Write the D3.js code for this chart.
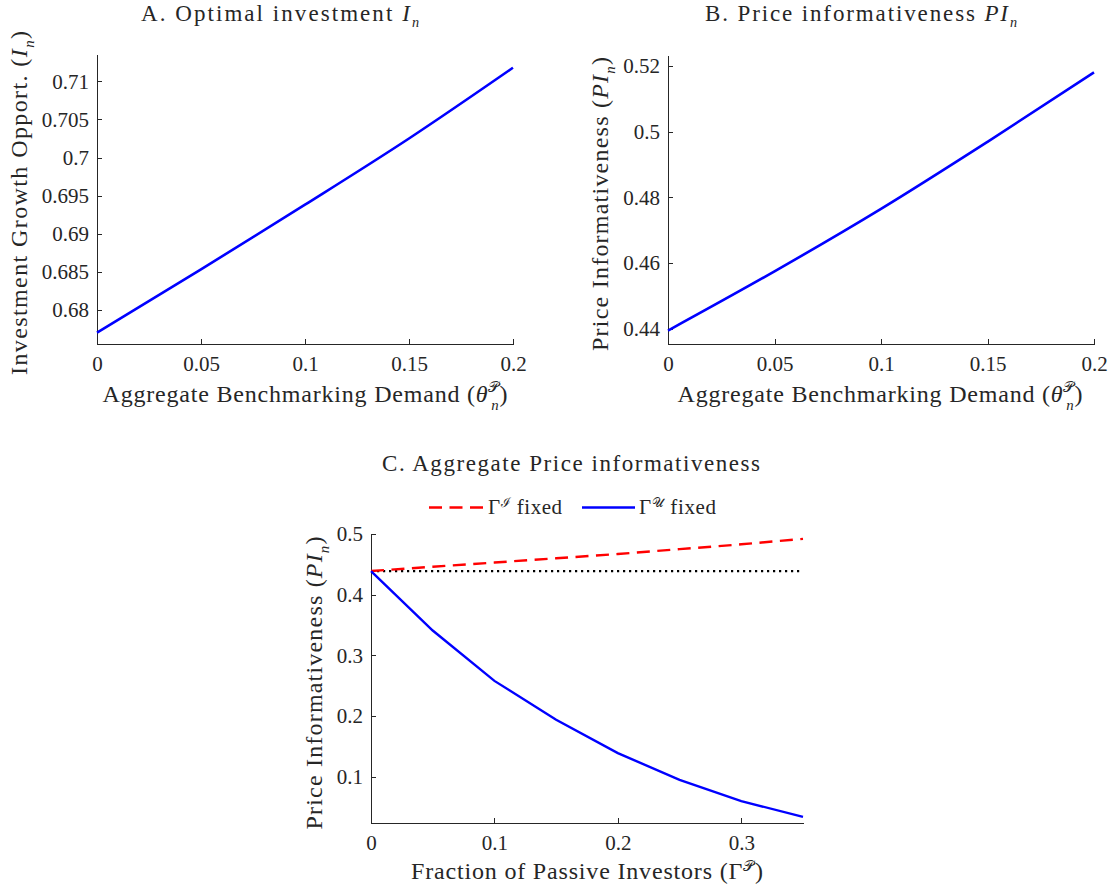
<!DOCTYPE html>
<html><head><meta charset="utf-8">
<script src="https://cdn.jsdelivr.net/npm/d3@7"></script>
<style>body{margin:0;background:#fff}svg{display:block}</style>
</head><body>
<svg id="c" width="1114" height="892"></svg>
<script>
// ---- data ----
const thetaA = [0, 0.05, 0.1, 0.15, 0.2];
const investA = [0.6770, 0.6853, 0.6938, 0.7025, 0.7118];
const thetaB = [0, 0.05, 0.1, 0.15, 0.2];
const piB = [0.4395, 0.4575, 0.4765, 0.4969, 0.5180];
const gammaP = [0, 0.05, 0.1, 0.15, 0.2, 0.25, 0.3, 0.35];
const piIfixed = [0.439, 0.446, 0.453, 0.460, 0.467, 0.475, 0.483, 0.492];
const piUfixed = [0.439, 0.341, 0.258, 0.194, 0.139, 0.095, 0.060, 0.034];
const baselinePI = 0.439;
const ticksAx = [0, 0.05, 0.1, 0.15, 0.2];
const ticksAy = [0.68, 0.685, 0.69, 0.695, 0.7, 0.705, 0.71];
const ticksBy = [0.44, 0.46, 0.48, 0.5, 0.52];
const ticksCx = [0, 0.1, 0.2, 0.3];
const ticksCy = [0.1, 0.2, 0.3, 0.4, 0.5];

const FONT = "'Liberation Serif','DejaVu Serif',serif";
const INK = "#262626";
const svg = d3.select("#c");
svg.append("rect").attr("width",1114).attr("height",892).attr("fill","#fff");

// rich text: segments [text, opts]; optional total width via textLength
function rich(g, x, y, size, segs, anchor, rotate, width){
  const t = g.append("text").attr("font-family",FONT).attr("font-size",size)
    .attr("fill",INK).attr("text-anchor",anchor||"middle");
  if(rotate){ t.attr("transform",`translate(${x},${y}) rotate(-90)`); }
  else { t.attr("x",x).attr("y",y); }
  let shift = 0;
  segs.forEach(s=>{
    const o = s[1]||{};
    const ts = t.append("tspan").text(s[0]);
    let target = 0;
    if(o.sub) target = size*(o.stack ? 0.33 : 0.28);
    if(o.sup) target = -size*(o.stack ? 0.42 : 0.32);
    ts.attr("dy", target - shift); shift = target;
    if(o.dx) ts.attr("dx", o.dx);
    if(o.italic) ts.attr("font-style","italic");
    if(o.sub||o.sup) ts.attr("font-size", size*0.62);
  });
  if(width) t.attr("textLength", width).attr("lengthAdjust","spacing");
  return t;
}

function fmt(d){ return String(+d.toFixed(4)); }

function panel(opt){
  const g = svg.append("g");
  const x = d3.scaleLinear().domain(opt.xd).range(opt.xr);
  const y = d3.scaleLinear().domain(opt.yd).range(opt.yr);
  const ax = g.append("g").attr("transform",`translate(0,${opt.yr[0]})`)
    .call(d3.axisBottom(x).tickValues(opt.xt).tickSizeInner(-5).tickSizeOuter(0).tickPadding(12).tickFormat(fmt));
  const ay = g.append("g").attr("transform",`translate(${opt.xr[0]},0)`)
    .call(d3.axisLeft(y).tickValues(opt.yt).tickSizeInner(-5).tickSizeOuter(0).tickPadding(8).tickFormat(fmt));
  [ax,ay].forEach(a=>{
    a.select(".domain").attr("stroke",INK).attr("shape-rendering","crispEdges");
    a.selectAll(".tick line").attr("stroke",INK).attr("shape-rendering","crispEdges");
    a.selectAll("text").attr("font-family",FONT).attr("font-size",21).attr("fill",INK);
  });
  ax.selectAll("text").attr("dy","0.71em");
  return {g,x,y};
}

const thetaLabel = [["Aggregate Benchmarking Demand ("],["θ",{italic:true}],["𝒫",{sup:true,stack:true}],["n",{italic:true,sub:true,stack:true,dx:-9}],[")"]];

// Panel A
const A = panel({xd:[0,0.2], xr:[97,513], yd:[0.6755,0.7136], yr:[344,54], xt:ticksAx, yt:ticksAy});
A.g.append("path").datum(thetaA.map((d,i)=>[d,investA[i]]))
  .attr("d", d3.line().x(d=>A.x(d[0])).y(d=>A.y(d[1])).curve(d3.curveMonotoneX))
  .attr("fill","none").attr("stroke","#0000ff").attr("stroke-width",2.6);
rich(svg, 280, 21, 23, [["A. Optimal investment "],["I",{italic:true}],["n",{italic:true,sub:true}]], "middle", false, 278);
rich(svg, 305, 402, 24, thetaLabel, "middle", false, 405);
rich(svg, 27, 203, 24, [["Investment Growth Opport. ("],["I",{italic:true}],["n",{italic:true,sub:true}],[")"]], "middle", true, 344);

// Panel B
const B = panel({xd:[0,0.2], xr:[668,1094], yd:[0.4354,0.5233], yr:[344,55], xt:ticksAx, yt:ticksBy});
B.g.append("path").datum(thetaB.map((d,i)=>[d,piB[i]]))
  .attr("d", d3.line().x(d=>B.x(d[0])).y(d=>B.y(d[1])).curve(d3.curveMonotoneX))
  .attr("fill","none").attr("stroke","#0000ff").attr("stroke-width",2.6);
rich(svg, 861, 21, 23, [["B. Price informativeness "],["PI",{italic:true}],["n",{italic:true,sub:true}]], "middle", false, 312);
rich(svg, 880, 402, 24, thetaLabel, "middle", false, 405);
rich(svg, 608, 204, 24, [["Price Informativeness ("],["PI",{italic:true}],["n",{italic:true,sub:true}],[")"]], "middle", true, 294);

// Panel C
const C = panel({xd:[0,0.35], xr:[371,803], yd:[0.0239,0.5], yr:[823,534], xt:ticksCx, yt:ticksCy});
C.g.append("line").attr("x1",C.x(0)).attr("x2",C.x(0.35)).attr("y1",C.y(baselinePI)).attr("y2",C.y(baselinePI))
  .attr("stroke","#000").attr("stroke-width",2.3).attr("stroke-dasharray","2.2,3.8");
C.g.append("path").datum(gammaP.map((d,i)=>[d,piIfixed[i]]))
  .attr("d", d3.line().x(d=>C.x(d[0])).y(d=>C.y(d[1])))
  .attr("fill","none").attr("stroke","#ff0000").attr("stroke-width",2.4).attr("stroke-dasharray","13,7.5");
C.g.append("path").datum(gammaP.map((d,i)=>[d,piUfixed[i]]))
  .attr("d", d3.line().x(d=>C.x(d[0])).y(d=>C.y(d[1])))
  .attr("fill","none").attr("stroke","#0000ff").attr("stroke-width",2.4);
rich(svg, 571, 471, 23, [["C. Aggregate Price informativeness"]], "middle", false, 378);
rich(svg, 587, 879, 24, [["Fraction of Passive Investors (Γ"],["𝒫",{sup:true}],[")"]], "middle", false, 352);
rich(svg, 322, 683, 24, [["Price Informativeness ("],["PI",{italic:true}],["n",{italic:true,sub:true}],[")"]], "middle", true, 293);

// legend
const lg = svg.append("g");
lg.append("line").attr("x1",429).attr("x2",483).attr("y1",507.5).attr("y2",507.5)
  .attr("stroke","#ff0000").attr("stroke-width",2.4).attr("stroke-dasharray","13,7.5");
rich(lg, 488, 514, 21, [["Γ"],["ℐ",{sup:true}],[" fixed"]], "start", false, 74);
lg.append("line").attr("x1",582).attr("x2",635).attr("y1",507.5).attr("y2",507.5)
  .attr("stroke","#0000ff").attr("stroke-width",2.4);
rich(lg, 639, 514, 21, [["Γ"],["𝒰",{sup:true}],[" fixed"]], "start", false, 77);
</script>
</body></html>
